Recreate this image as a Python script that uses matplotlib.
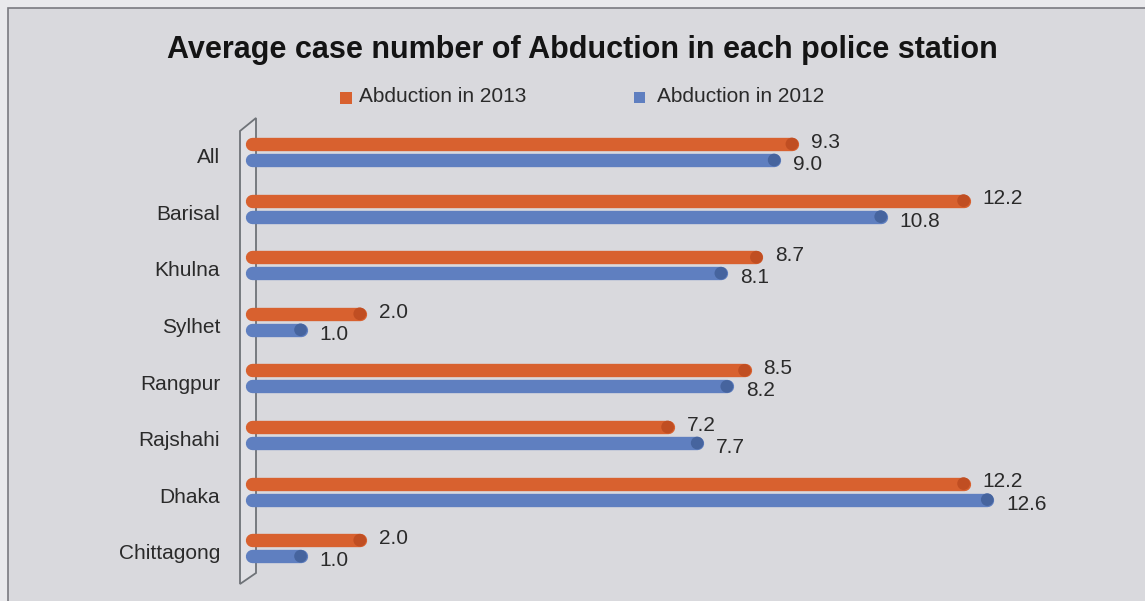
import numpy as np
import matplotlib.pyplot as plt
from matplotlib.patches import Rectangle, Polygon

# Average abduction cases per police station, by division
stations = ["All", "Barisal", "Khulna", "Sylhet", "Rangpur", "Rajshahi", "Dhaka", "Chittagong"]
abduction_2013 = [9.3, 12.2, 8.7, 2.0, 8.5, 7.2, 12.2, 2.0]
abduction_2012 = [9.0, 10.8, 8.1, 1.0, 8.2, 7.7, 12.6, 1.0]

title = "Average case number of Abduction in each police station"
label_2013 = "Abduction in 2013"
label_2012 = "Abduction in 2012"

c13 = "#d8612f"
c12 = "#5f7fc0"
c13_end = "#c04e22"
c12_end = "#46649e"
panel = "#d9d9dd"
text_c = "#2a2a2a"

plt.rcParams['font.family'] = ['Liberation Sans Narrow', 'Liberation Sans', 'DejaVu Sans']

W, H = 1145, 601
fig = plt.figure(figsize=(W / 100, H / 100), dpi=100)
fig.patch.set_facecolor("#e9e9ec")

# page panel with its thin border (top and left edges visible)
fig.patches.append(Rectangle((8 / W, -0.1), 1.2, 1.1 - 8 / H, transform=fig.transFigure,
                             facecolor=panel, edgecolor="#7a7a80", lw=1.2, zorder=-5))

# axes: value 0 at x=252px, 59.2 px per unit; rows 56.6 px apart starting at y=152px
x0_px, px_unit = 252, 59.2
xmax = 15
row0_px, row_px = 152, 56.6
top_idx, bot_idx = -0.62, 7.75
ax_top_px = row0_px + top_idx * row_px
ax_bot_px = row0_px + bot_idx * row_px
ax = fig.add_axes([x0_px / W, 1 - ax_bot_px / H, xmax * px_unit / W, (ax_bot_px - ax_top_px) / H])
ax.set_xlim(0, xmax)
ax.set_ylim(bot_idx, top_idx)
ax.axis("off")
ax.set_zorder(2)

# 3D-looking wall on the left of the bars
def px_to_data(x, y):
    return ((x - x0_px) / px_unit, (y - row0_px) / row_px)

wall = [px_to_data(240, 131), px_to_data(256, 118), px_to_data(256, 573), px_to_data(240, 584)]
ax.add_patch(Polygon(wall, closed=True, facecolor="#e0e0e4", edgecolor="#6f7378", lw=1.3,
                     zorder=1, clip_on=False))

y = np.arange(len(stations))
off = 8 / row_px
cap = 0.18  # round cap radius in data units
bar_lw = 9.6

for vals, dy, col, end_col in [(abduction_2013, -off, c13, c13_end),
                               (abduction_2012, off, c12, c12_end)]:
    vals = np.array(vals)
    lines = ax.hlines(y + dy, 0, vals - cap, colors=col, lw=bar_lw, zorder=3, clip_on=False)
    lines.set_capstyle("round")
    ax.scatter(vals - cap, y + dy, s=(bar_lw * 0.95) ** 2, color=end_col, marker="o",
               edgecolors="none", zorder=4, clip_on=False)

for i in range(len(stations)):
    ax.text(abduction_2013[i] + 0.14, y[i] - off - 0.03, f"{abduction_2013[i]:.1f}",
            ha="left", va="center", fontsize=15, color=text_c, zorder=5)
    ax.text(abduction_2012[i] + 0.14, y[i] + off + 0.08, f"{abduction_2012[i]:.1f}",
            ha="left", va="center", fontsize=15, color=text_c, zorder=5)
    ax.text(-32 / px_unit, y[i] + 0.1, stations[i], ha="right", va="center",
            fontsize=15, color=text_c, zorder=5)

# title and legend
fig.text(582 / W, 1 - 50 / H, title, ha="center", va="center", fontsize=22,
         fontweight="bold", color="#141414")
fig.patches.append(Rectangle((340 / W, 1 - 104 / H), 12 / W, 12 / H, transform=fig.transFigure,
                             facecolor=c13, edgecolor="none"))
fig.text(359 / W, 1 - 97 / H, label_2013, ha="left", va="center", fontsize=15, color=text_c)
fig.patches.append(Rectangle((634 / W, 1 - 103 / H), 11 / W, 11 / H, transform=fig.transFigure,
                             facecolor=c12, edgecolor="none"))
fig.text(657 / W, 1 - 97 / H, label_2012, ha="left", va="center", fontsize=15, color=text_c)

plt.savefig("out.png", dpi=100, facecolor=fig.get_facecolor())
plt.close()
